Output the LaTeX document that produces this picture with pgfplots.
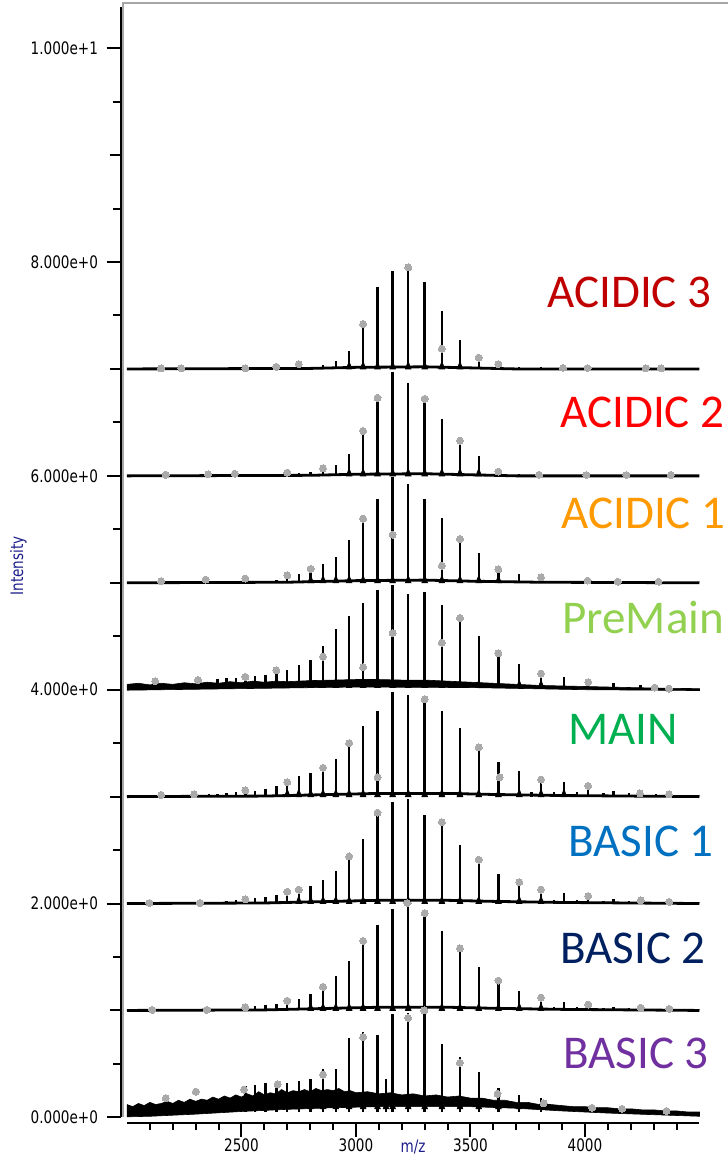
\documentclass[border=0pt]{standalone}
\usepackage{fontspec}
\usepackage{pgfplots}
\usepackage{pgfplotstable}
\pgfplotsset{compat=1.18}
\setmainfont{Carlito}
\newfontfamily\tickfont[FakeStretch=0.79]{DejaVu Sans}

\definecolor{acid3}{RGB}{192,0,0}
\definecolor{acid2}{RGB}{255,0,0}
\definecolor{acid1}{RGB}{255,153,0}
\definecolor{premain}{RGB}{146,208,80}
\definecolor{mainc}{RGB}{0,176,80}
\definecolor{basic1}{RGB}{0,112,192}
\definecolor{basic2}{RGB}{0,32,96}
\definecolor{basic3}{RGB}{112,48,160}
\definecolor{dotgray}{RGB}{170,170,170}
\definecolor{axisblue}{RGB}{30,30,140}

% peak tables: m/z and height above the trace baseline
\pgfplotstableread{
mz h
2605 0.01
2652 0.015
2700 0.015
2750 0.04
2802 0.02
2856 0.035
2912 0.07
2970 0.17
3031 0.40
3094 0.77
3160 0.92
3228 0.94
3300 0.81
3375 0.54
3454 0.27
3536 0.11
3622 0.06
3713 0.02
3808 0.015
4014 0.008
}\acidthreepk
\pgfplotstableread{
mz h
2149 0.005
2237 0.005
2517 0.005
2652 0.02
2750 0.045
3031 0.42
3228 0.95
3375 0.19
3536 0.105
3622 0.045
3904 0.01
4011 0.008
4265 0.005
4333 0.005
}\acidthreedot

\pgfplotstableread{
mz h
2652 0.015
2700 0.02
2750 0.03
2802 0.04
2856 0.07
2912 0.10
2970 0.20
3031 0.40
3094 0.72
3160 0.97
3228 0.87
3300 0.72
3375 0.53
3454 0.32
3536 0.19
3622 0.05
3713 0.02
3808 0.01
}\acidtwopk
\pgfplotstableread{
mz h
2169 0.01
2354 0.015
2471 0.02
2700 0.03
2856 0.07
3031 0.42
3094 0.73
3300 0.72
3454 0.33
3622 0.04
3800 0.01
4006 0.008
4181 0.008
4375 0.008
}\acidtwodot

\pgfplotstableread{
mz h
2560 0.015
2605 0.02
2652 0.03
2700 0.07
2750 0.085
2802 0.15
2856 0.18
2912 0.24
2970 0.40
3031 0.58
3094 0.78
3160 0.99
3228 0.92
3300 0.78
3375 0.61
3454 0.42
3536 0.275
3622 0.15
3713 0.08
3808 0.05
3908 0.02
4014 0.01
}\acidonepk
\pgfplotstableread{
mz h
2149 0.015
2343 0.03
2517 0.04
2700 0.07
2802 0.13
3031 0.60
3160 0.45
3375 0.16
3454 0.41
3622 0.125
3808 0.05
4011 0.02
4143 0.01
4321 0.01
}\acidonedot

\pgfplotstableread{
mz h
2395 0.08
2434 0.09
2475 0.09
2517 0.12
2560 0.11
2605 0.12
2652 0.19
2700 0.16
2750 0.21
2802 0.26
2856 0.39
2912 0.55
2970 0.67
3031 0.79
3094 0.91
3160 0.96
3228 0.875
3300 0.89
3375 0.77
3454 0.68
3536 0.48
3622 0.34
3713 0.22
3808 0.15
3908 0.10
4014 0.07
4125 0.04
4243 0.02
}\premainpk
\pgfplotstableread{
mz h
2123 0.08
2310 0.09
2517 0.12
2652 0.18
2856 0.31
3031 0.21
3160 0.53
3375 0.44
3454 0.67
3622 0.34
3808 0.15
4014 0.07
4304 0.02
4367 0.01
}\premaindot
\pgfplotstableread{
mz h
2000 0.05
2050 0.06
2100 0.045
2150 0.06
2200 0.05
2250 0.065
2300 0.055
2350 0.07
2400 0.06
2450 0.075
2500 0.065
2550 0.08
2600 0.07
2650 0.08
2700 0.075
2800 0.085
2900 0.09
3000 0.095
3100 0.095
3200 0.09
3300 0.09
3400 0.08
3500 0.07
3600 0.06
3700 0.05
3800 0.04
3900 0.035
4000 0.03
4200 0.02
4400 0.012
4500 0.01
4500 -0.008
4000 0.0
3500 0.02
3000 0.025
2500 0.01
2000 -0.005
}\premainband

\pgfplotstableread{
mz h
2320 0.015
2357 0.02
2395 0.02
2434 0.03
2475 0.04
2517 0.06
2560 0.05
2605 0.07
2652 0.10
2700 0.16
2750 0.19
2802 0.22
2856 0.28
2912 0.35
2970 0.50
3031 0.66
3094 0.80
3160 0.98
3228 0.95
3300 0.91
3375 0.80
3454 0.64
3536 0.46
3622 0.32
3713 0.24
3766 0.04
3808 0.16
3864 0.04
3908 0.14
3965 0.04
4014 0.10
4080 0.03
4125 0.05
4191 0.03
4243 0.035
4310 0.02
4368 0.02
4430 0.015
}\mainpk
\pgfplotstableread{
mz h
2149 0.015
2293 0.02
2517 0.06
2700 0.135
2856 0.27
2970 0.50
3094 0.18
3300 0.91
3536 0.46
3627 0.18
3808 0.16
4014 0.10
4240 0.03
4367 0.02
}\maindot

\pgfplotstableread{
mz h
2434 0.02
2475 0.03
2517 0.04
2560 0.05
2605 0.06
2652 0.08
2700 0.11
2750 0.15
2802 0.16
2856 0.22
2912 0.30
2970 0.44
3031 0.60
3094 0.84
3160 0.95
3228 0.975
3300 0.83
3375 0.76
3454 0.55
3536 0.41
3622 0.275
3713 0.21
3808 0.15
3864 0.03
3908 0.10
3965 0.03
4014 0.07
4080 0.025
4125 0.04
4191 0.02
4243 0.03
4310 0.015
4368 0.015
}\basiconepk
\pgfplotstableread{
mz h
2098 0.005
2318 0.005
2517 0.04
2700 0.11
2750 0.13
2970 0.44
3094 0.85
3224 0.005
3375 0.76
3536 0.41
3713 0.20
3808 0.13
4014 0.07
4243 0.03
4368 0.015
}\basiconedot

\pgfplotstableread{
mz h
2517 0.03
2560 0.04
2605 0.05
2652 0.06
2700 0.09
2750 0.11
2802 0.15
2856 0.22
2912 0.32
2970 0.46
3031 0.63
3094 0.80
3160 0.95
3228 0.99
3300 0.89
3375 0.74
3454 0.56
3536 0.41
3622 0.27
3713 0.18
3808 0.12
3864 0.03
3908 0.08
3965 0.03
4014 0.055
4080 0.02
4125 0.035
4191 0.02
4243 0.025
4368 0.015
}\basictwopk
\pgfplotstableread{
mz h
2110 0.005
2348 0.005
2517 0.03
2700 0.09
2856 0.22
3031 0.65
3300 0.91
3454 0.58
3622 0.28
3808 0.12
4014 0.055
4243 0.025
4368 0.015
}\basictwodot

\pgfplotstableread{
mz h
2517 0.24
2560 0.25
2605 0.27
2652 0.29
2700 0.27
2750 0.29
2802 0.31
2856 0.40
2912 0.40
2970 0.69
3031 0.75
3094 0.72
3131 0.31
3160 0.92
3228 0.93
3300 0.93
3375 0.64
3454 0.51
3536 0.37
3622 0.22
3713 0.16
3808 0.13
}\basicthreepk
\pgfplotstableread{
mz h
2169 0.18
2301 0.24
2511 0.26
2658 0.31
2856 0.40
3031 0.75
3228 0.93
3298 1.00
3454 0.51
3618 0.22
3819 0.13
4031 0.09
4162 0.08
4356 0.06
}\basicthreedot
\pgfplotstableread{
mz h
2000 0.12
2025 0.10
2050 0.13
2075 0.11
2100 0.14
2125 0.12
2150 0.13
2175 0.15
2200 0.13
2225 0.16
2250 0.14
2275 0.17
2300 0.15
2325 0.17
2350 0.16
2375 0.19
2400 0.17
2425 0.20
2450 0.18
2475 0.21
2500 0.19
2525 0.22
2550 0.20
2575 0.24
2600 0.21
2625 0.23
2650 0.22
2675 0.26
2700 0.23
2725 0.25
2750 0.24
2775 0.26
2800 0.24
2825 0.27
2850 0.25
2875 0.26
2900 0.25
2925 0.27
2950 0.24
2975 0.25
3000 0.23
3050 0.24
3100 0.22
3150 0.23
3200 0.21
3250 0.22
3300 0.20
3350 0.21
3400 0.19
3450 0.20
3500 0.18
3550 0.18
3600 0.16
3650 0.16
3700 0.14
3750 0.14
3800 0.12
3850 0.12
3900 0.11
3950 0.10
4000 0.10
4050 0.09
4100 0.09
4150 0.08
4200 0.08
4250 0.07
4300 0.07
4350 0.06
4400 0.06
4450 0.05
4500 0.05
4500 0.01
4300 0.025
4100 0.04
3900 0.06
3700 0.085
3500 0.10
3300 0.10
3100 0.10
2900 0.09
2700 0.075
2500 0.055
2300 0.03
2100 0.01
2000 0.005
}\basicthreeband

\pgfplotsset{
  peaks/.style={draw=none, mark=none, forget plot,
    error bars/.cd, y dir=plus, y explicit, error mark=none,
    error bar style={draw=black, solid, line width=1.2pt}},
  feet/.style={only marks, mark=triangle*, mark size=1.6pt, forget plot,
    color=black, restrict expr to domain={\thisrow{h}}{0.12:2},
    mark options={draw=none, fill=black, yshift=1.2pt, xscale=1.0, yscale=1.5}},
  dots/.style={only marks, mark=*, mark size=1.75pt, forget plot,
    color=dotgray, mark options={draw=dotgray, fill=dotgray, line width=0pt}},
  base/.style={black, line width=1.4pt, mark=none, forget plot},
}

\newcommand{\lab}{\fontsize{23.5}{28}\selectfont}
\newcommand{\tkf}{\tickfont\fontsize{8.6}{10}\selectfont}

\begin{document}
\begin{tikzpicture}
\begin{axis}[
  at={(0,0)}, anchor=south west,
  scale only axis, width=303.65pt, height=559.7pt,
  xmin=1972.5, xmax=4624.5, ymin=-0.05, ymax=10.42,
  axis x line*=bottom, axis y line*=left,
  axis line style={draw=none},
  clip=false,
  tick align=outside,
  major tick length=7pt, minor tick length=3.65pt,
  tick style={black, line width=1pt},
  xtick={2500,3000,3500,4000}, xticklabels={2500,3000,3500,4000},
  minor xtick={2100,2200,...,4400},
  ytick={0,2,4,6,8,10},
  yticklabels={0.000e+0,2.000e+0,4.000e+0,6.000e+0,8.000e+0,1.000e+1},
  minor ytick={0.5,1.5,...,9.5},
  extra y ticks={1,3,5,7,9}, extra y tick labels={},
  extra y tick style={major tick length=5.5pt},
  ticklabel style={font=\tkf},
  xticklabel style={yshift=0pt, inner sep=1pt},
  yticklabel style={xshift=-0.8pt},
  xlabel={m/z}, ylabel={Intensity},
  xlabel style={font=\tkf, text=axisblue,
    at={(axis description cs:0.4813,-0.0215)}, anchor=center},
  ylabel style={font=\tkf, text=axisblue,
    at={(axis description cs:-0.1683,0.4973)}, anchor=center},
]
% frame and axis lines
\draw[black!35, line width=0.8pt] (axis cs:1983.8,0) -- (axis cs:1983.8,10.42) -- (axis cs:4700,10.42);
\draw[black, line width=1pt] (axis cs:1972.5,0) -- (axis cs:1972.5,10.39);
\draw[black, line width=1pt] (axis cs:2000,-0.05) -- (axis cs:4500,-0.05);

% ACIDIC 3
\addplot[base] coordinates {(2000,7) (2800,7.005) (3000,7.015) (3300,7.02) (3500,7.01) (3700,7) (4500,7)};
\addplot[peaks] table[x=mz, y expr=7, y error=h] {\acidthreepk};
\addplot[feet] table[x=mz, y expr=7] {\acidthreepk};
% ACIDIC 2
\addplot[base] coordinates {(2000,6) (2800,6.005) (3000,6.015) (3300,6.02) (3500,6.01) (3700,6) (4500,6)};
\addplot[peaks] table[x=mz, y expr=6, y error=h] {\acidtwopk};
\addplot[feet] table[x=mz, y expr=6] {\acidtwopk};
% ACIDIC 1
\addplot[base] coordinates {(2000,5) (2700,5.005) (3000,5.02) (3300,5.025) (3500,5.015) (3800,5.005) (4500,5)};
\addplot[peaks] table[x=mz, y expr=5, y error=h] {\acidonepk};
\addplot[feet] table[x=mz, y expr=5] {\acidonepk};
% PreMain
\addplot[fill=black, draw=black, line width=0.3pt, forget plot] table[x=mz, y expr=\thisrow{h}+4] {\premainband};
\addplot[peaks] table[x=mz, y expr=4.02, y error=h] {\premainpk};
\addplot[feet] table[x=mz, y expr=4.02] {\premainpk};
% MAIN
\addplot[base] coordinates {(2000,3) (2600,3.005) (2900,3.02) (3100,3.03) (3400,3.03) (3600,3.02) (3900,3.01) (4500,3)};
\addplot[peaks] table[x=mz, y expr=3, y error=h] {\mainpk};
\addplot[feet] table[x=mz, y expr=3] {\mainpk};
% BASIC 1
\addplot[base] coordinates {(2000,2) (2600,2.005) (2900,2.02) (3100,2.03) (3400,2.03) (3600,2.02) (3900,2.01) (4500,2)};
\addplot[peaks] table[x=mz, y expr=2, y error=h] {\basiconepk};
\addplot[feet] table[x=mz, y expr=2] {\basiconepk};
% BASIC 2
\addplot[base] coordinates {(2000,1) (2600,1.005) (2900,1.02) (3100,1.03) (3400,1.03) (3600,1.02) (3900,1.01) (4500,1)};
\addplot[peaks] table[x=mz, y expr=1, y error=h] {\basictwopk};
\addplot[feet] table[x=mz, y expr=1] {\basictwopk};
% BASIC 3
\addplot[fill=black, draw=black, line width=0.3pt, forget plot] table[x=mz, y=h] {\basicthreeband};
\addplot[peaks] table[x=mz, y expr=0.05, y error=h] {\basicthreepk};
\addplot[feet] table[x=mz, y expr=0.08] {\basicthreepk};

% gray peak markers
\addplot[dots] table[x=mz, y expr=\thisrow{h}+7] {\acidthreedot};
\addplot[dots] table[x=mz, y expr=\thisrow{h}+6] {\acidtwodot};
\addplot[dots] table[x=mz, y expr=\thisrow{h}+5] {\acidonedot};
\addplot[dots] table[x=mz, y expr=\thisrow{h}+4] {\premaindot};
\addplot[dots] table[x=mz, y expr=\thisrow{h}+3] {\maindot};
\addplot[dots] table[x=mz, y expr=\thisrow{h}+2] {\basiconedot};
\addplot[dots] table[x=mz, y expr=\thisrow{h}+1] {\basictwodot};
\addplot[dots] table[x=mz, y=h] {\basicthreedot};

% sample names
\node[anchor=base west, inner sep=0pt, font=\lab, text=acid3] at (axis cs:3834,7.571) {ACIDIC 3};
\node[anchor=base west, inner sep=0pt, font=\lab, text=acid2] at (axis cs:3891,6.448) {ACIDIC 2};
\node[anchor=base west, inner sep=0pt, font=\lab, text=acid1] at (axis cs:3895,5.503) {ACIDIC 1};
\node[anchor=base west, inner sep=0pt, font=\lab, text=premain] at (axis cs:3900,4.521) {PreMain};
\node[anchor=base west, inner sep=0pt, font=\lab, text=mainc] at (axis cs:3926,3.492) {MAIN};
\node[anchor=base west, inner sep=0pt, font=\lab, text=basic1] at (axis cs:3926,2.444) {BASIC 1};
\node[anchor=base west, inner sep=0pt, font=\lab, text=basic2] at (axis cs:3891,1.443) {BASIC 2};
\node[anchor=base west, inner sep=0pt, font=\lab, text=basic3] at (axis cs:3904,0.461) {BASIC 3};
\end{axis}
\pgfresetboundingbox
\path[use as bounding box] (-60.35pt,-19.65pt) rectangle (303.65pt,561.35pt);
\end{tikzpicture}
\end{document}
